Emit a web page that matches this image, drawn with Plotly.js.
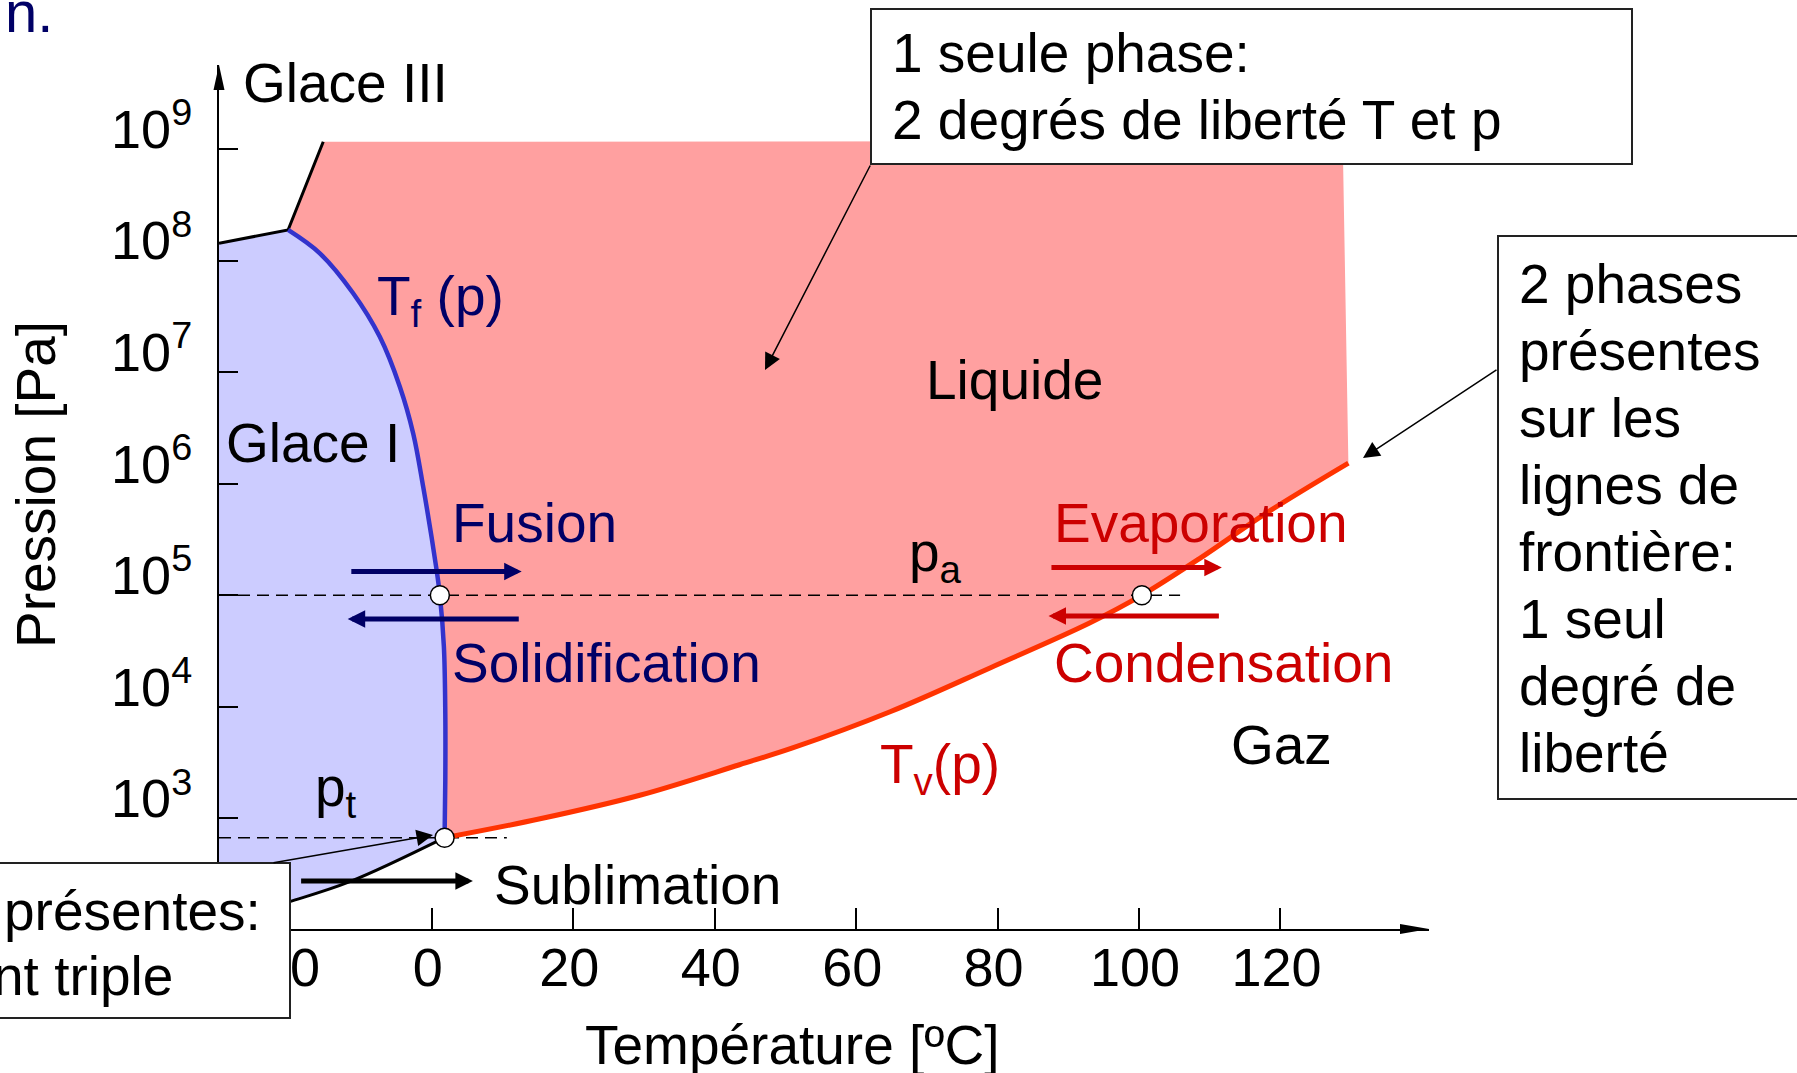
<!DOCTYPE html>
<html>
<head>
<meta charset="utf-8">
<script src="https://cdn.plot.ly/plotly-3.0.1.min.js"></script>
<style>html,body{margin:0;padding:0;background:#fff;} #chart{width:1797px;height:1073px;}</style>
</head>
<body>
<div id="chart"></div>
<script>
// ---------- values (T in °C, p in Pa) ----------
// Fusion curve Tf(p): triple point -> Glace I / Glace III / liquide point
const fusionT = [1.8, 1.9, 1.9, 1.7, 1.13, 0.6, -1.23, -2.64, -4.53, -7.36, -11.13, -15.84, -20.33];
const fusionP = [670, 2200, 8700, 34500, 1.0e5, 1.8e5, 9.4e5, 2.82e6, 7.4e6, 2.07e7, 5.09e7, 1.16e8, 1.88e8];
// Vaporisation curve Tv(p): triple point -> end of drawn curve
const vaporT = [1.8, 15.3, 29.4, 43.5, 51, 64.8, 79, 93, 100.4, 108.6, 118.1, 129.6];
const vaporP = [670, 990, 1610, 3020, 4270, 9020, 22400, 56200, 1.0e5, 2.14e5, 5.5e5, 1.53e6];
// Sublimation curve: triple point -> left edge
const sublimT = [1.8, -11.6, -20.1, -30.1];
const sublimP = [670, 270, 179, 117];
// Glace I / Glace III boundary and Glace III / liquide boundary
const glace3T = [-30.1, -20.33, -15.36];
const glace3P = [1.43e8, 1.88e8, 1.16e9];
// upper right corner of the liquid area
const liquidCornerT = [128.8];
const liquidCornerP = [1.18e9];
// marked points (fusion at pa, vaporisation at pa, triple point)
const pointT = [1.13, 100.4, 1.8];
const pointP = [1.0e5, 1.0e5, 670];
// reference pressures pa and pt (dashed lines)
const paT = [-30.1, 105.8];
const paP = [1.0e5, 1.0e5];
const ptT = [-30.1, 10.6];
const ptP = [670, 670];
// transformation arrows
const procNames = ['Fusion', 'Solidification', 'Evaporation', 'Condensation', 'Sublimation'];
const procFromT = [-11.6, 12.5, 87.4, 111.5, -18.7];
const procToT = [12.7, -11.9, 111.7, 87.2, 5.8];
const procP = [1.63e5, 6.12e4, 1.77e5, 6.5e4, 274];
const procColors = ['#000066', '#000066', '#CC0000', '#CC0000', '#000000'];
// ticks
const xTickVals = [-20, 0, 20, 40, 60, 80, 100, 120];
const xTickText = ['-20\u2009', '0', '20', '40', '60', '80', '100', '120'];
const yTickVals = [1e3, 1e4, 1e5, 1e6, 1e7, 1e8, 1e9];
const yTickText = ['10<sup>3</sup>', '10<sup>4</sup>', '10<sup>5</sup>', '10<sup>6</sup>', '10<sup>7</sup>', '10<sup>8</sup>', '10<sup>9</sup>'];

// ---------- geometry helpers (page pixels -> paper fractions) ----------
const ML = 219, MR = 368, MT = 65, MB = 144, W = 1797, H = 1073;
const PW = W - ML - MR, PH = H - MT - MB;
const PX = x => (x - ML) / PW;
const PY = y => (H - MB - y) / PH;

const NAVY = '#000066', RED = '#CC0000';
const FONT = 'Liberation Sans, Arial, Helvetica, sans-serif';

// polygons for the filled phase areas, built from the curves
const rev = a => a.slice().reverse();
const glaceIT = [glace3T[0]].concat(rev(fusionT), sublimT.slice(1));
const glaceIP = [glace3P[0]].concat(rev(fusionP), sublimP.slice(1));
const liquidT = fusionT.concat([glace3T[2]], liquidCornerT, rev(vaporT));
const liquidP = fusionP.concat([glace3P[2]], liquidCornerP, rev(vaporP));

const data = [
  {x: glaceIT, y: glaceIP, mode: 'lines', fill: 'toself', fillcolor: '#CCCCFF', line: {width: 0, color: '#CCCCFF'}, hoverinfo: 'skip'},
  {x: liquidT, y: liquidP, mode: 'lines', fill: 'toself', fillcolor: '#FFA0A0', line: {width: 0, color: '#FFA0A0'}, hoverinfo: 'skip'},
  {x: paT, y: paP, mode: 'lines', line: {color: '#000', width: 1.5, dash: '12px,7px'}},
  {x: ptT, y: ptP, mode: 'lines', line: {color: '#000', width: 1.5, dash: '12px,7px'}},
  {x: glace3T, y: glace3P, mode: 'lines', line: {color: '#000', width: 3}},
  {x: sublimT, y: sublimP, mode: 'lines', line: {color: '#000', width: 3, shape: 'spline'}},
  {x: fusionT, y: fusionP, mode: 'lines', line: {color: '#3333CC', width: 4.5, shape: 'spline'}},
  {x: vaporT, y: vaporP, mode: 'lines', line: {color: '#FF3300', width: 5, shape: 'spline'}},
  {x: pointT, y: pointP, mode: 'markers', marker: {size: 19, color: '#fff', line: {color: '#000', width: 1.5}}}
];

const lab = (text, x, y, color, extra) => Object.assign({
  text: text, xref: 'paper', yref: 'paper', x: PX(x), y: PY(y),
  xanchor: 'left', yanchor: 'middle', showarrow: false,
  font: {family: FONT, size: 55, color: color || '#000'}
}, extra || {});

const annotations = [
  lab('n.', 3, 11, NAVY, {font: {family: FONT, size: 58, color: NAVY}}),
  lab('Glace III', 241, 83),
  lab('T<sub>f</sub> (p)', 375, 296, NAVY, {yshift: -4}),
  lab('Glace I', 224, 443),
  lab('Liquide', 924, 380),
  lab('Fusion', 450, 523, NAVY),
  lab('Solidification', 450, 663, NAVY),
  lab('Evaporation', 1052, 523, RED),
  lab('Condensation', 1052, 663, RED),
  lab('Sublimation', 492, 885),
  lab('T<sub>v</sub>(p)', 878, 764, RED, {yshift: -4}),
  lab('Gaz', 1229, 745),
  lab('p<sub>a</sub>', 907, 552, '#000', {yshift: -4}),
  lab('p<sub>t</sub>', 313, 787, '#000', {yshift: -4}),
  lab('1 seule phase:', 890, 53),
  lab('2 degrés de liberté T et p', 890, 120),
  lab('2 phases', 1517, 284),
  lab('présentes', 1517, 351),
  lab('sur les', 1517, 418),
  lab('lignes de', 1517, 485),
  lab('frontière:', 1517, 552),
  lab('1 seul', 1517, 619),
  lab('degré de', 1517, 686),
  lab('liberté', 1517, 753),
  lab('présentes:', 263, 911, '#000', {xanchor: 'right'}),
  lab('nt triple', 175, 976, '#000', {xanchor: 'right'}),
  lab('Température [ºC]', 792, 1045, '#000', {xanchor: 'center'}),
  lab('Pression [Pa]', 36, 484, '#000', {xanchor: 'center', textangle: -90}),
  // pointer arrows from the text boxes
  {xref: 'paper', yref: 'paper', x: PX(765), y: PY(370), ax: 106, ay: -206, text: '', showarrow: true, arrowhead: 2, arrowsize: 2.2, arrowwidth: 1.5, arrowcolor: '#000'},
  {xref: 'paper', yref: 'paper', x: PX(1363), y: PY(458), ax: 135, ay: -89, text: '', showarrow: true, arrowhead: 2, arrowsize: 2.2, arrowwidth: 1.5, arrowcolor: '#000'},
  {xref: 'paper', yref: 'paper', x: PX(433), y: PY(835), ax: -161, ay: 28, text: '', showarrow: true, arrowhead: 2, arrowsize: 2.2, arrowwidth: 1.5, arrowcolor: '#000'}
];
procNames.forEach((n, i) => {
  annotations.push({
    xref: 'x', yref: 'y', axref: 'x', ayref: 'y',
    x: procToT[i], y: Math.log10(procP[i]), ax: procFromT[i], ay: Math.log10(procP[i]),
    text: '', showarrow: true, arrowhead: 2, arrowsize: 0.7, arrowwidth: 5, arrowcolor: procColors[i]
  });
});

const box = (x0, y0, x1, y1) => ({type: 'rect', xref: 'paper', yref: 'paper', layer: 'above',
  x0: PX(x0), x1: PX(x1), y0: PY(y1), y1: PY(y0), fillcolor: '#fff', line: {color: '#222', width: 2}});

const shapes = [
  box(871, 9, 1632, 164),
  box(1498, 236, 1815, 799),
  box(-10, 863, 290, 1018),
  // arrowheads at the ends of the axes
  {type: 'path', xref: 'paper', yref: 'paper', xsizemode: 'pixel', ysizemode: 'pixel', xanchor: 0, yanchor: 1,
   path: 'M0,0L-5.5,-25L5.5,-25Z', fillcolor: '#000', line: {width: 0}},
  {type: 'path', xref: 'paper', yref: 'paper', xsizemode: 'pixel', ysizemode: 'pixel', xanchor: 1, yanchor: 0,
   path: 'M0,0L-29,5L-29,-5Z', fillcolor: '#000', line: {width: 0}}
];

const layout = {
  width: W, height: H,
  margin: {l: ML, r: MR, t: MT, b: MB, pad: 0},
  paper_bgcolor: '#fff', plot_bgcolor: '#fff',
  showlegend: false,
  font: {family: FONT, color: '#000'},
  xaxis: {
    range: [-30.1, 141.0], showgrid: false, zeroline: false,
    showline: true, linecolor: '#000', linewidth: 2,
    ticks: 'inside', ticklen: 21, tickwidth: 2, tickcolor: '#000',
    tickvals: xTickVals, ticktext: xTickText,
    tickfont: {family: FONT, size: 54, color: '#000'},
    ticklabelstandoff: -10, ticklabelshift: -4
  },
  yaxis: {
    type: 'log', range: [2.0076, 9.753], showgrid: false, zeroline: false,
    showline: true, linecolor: '#000', linewidth: 2,
    ticks: 'inside', ticklen: 19, tickwidth: 2, tickcolor: '#000',
    tickvals: yTickVals, ticktext: yTickText,
    tickfont: {family: FONT, size: 54, color: '#000'},
    ticklabelstandoff: 14, ticklabelshift: -20
  },
  annotations: annotations,
  shapes: shapes
};

Plotly.newPlot('chart', data, layout, {staticPlot: true, displayModeBar: false});
</script>
</body>
</html>
